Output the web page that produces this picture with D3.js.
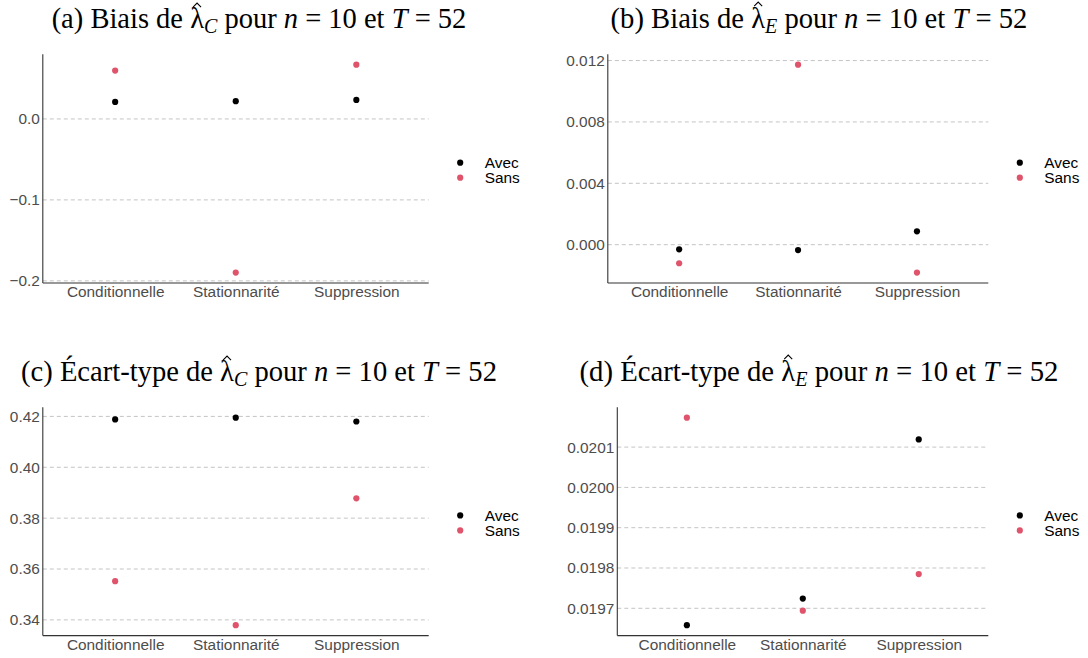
<!DOCTYPE html>
<html>
<head>
<meta charset="utf-8">
<script src="https://cdn.jsdelivr.net/npm/d3@7"></script>
<style>
  body { margin: 0; background: #fff; }
  svg { display: block; }
  .tick-lab { font-family: "Liberation Sans", Arial, sans-serif; font-size: 15.4px; fill: #4d4d4d; }
  .leg-lab { font-family: "Liberation Sans", Arial, sans-serif; font-size: 15.4px; fill: #000; }
  .title { font-family: "Liberation Serif", "DejaVu Serif", serif; fill: #000; }
</style>
</head>
<body>
<div id="chart"></div>
<script>
// Categories and series
const categories = ["Conditionnelle", "Stationnarité", "Suppression"];
const groups = ["Avec", "Sans"];

const biaisC_avec = [0.0210, 0.0219, 0.0235];
const biaisC_sans = [0.0597, -0.1898, 0.0670];
const biaisE_avec = [-0.00030, -0.00035, 0.00087];
const biaisE_sans = [-0.00121, 0.01173, -0.00182];
const sdC_avec = [0.4188, 0.4195, 0.4180];
const sdC_sans = [0.3552, 0.3379, 0.3878];
const sdE_avec = [0.019658, 0.019724, 0.020119];
const sdE_sans = [0.020173, 0.019694, 0.019785];

// Tick labels
const ticksA = [0.0, -0.1, -0.2];
const ticksB = [0.000, 0.004, 0.008, 0.012];
const ticksC = [0.34, 0.36, 0.38, 0.40, 0.42];
const ticksD = [0.0197, 0.0198, 0.0199, 0.0200, 0.0201];

const colors = {"Avec": "#000000", "Sans": "#DF536B"};

const width = 1088, height = 658;

let svg = d3.select("#chart")
    .append("svg")
    .attr("width", width)
    .attr("height", height);

// panel layout (plot area boxes)
const panels = [
    {letter: "a", what: "Biais", sub: "C", avec: biaisC_avec, sans: biaisC_sans, ticks: ticksA, fmt: d3.format(".1f"),
     left: 42.8, right: 428.7, top: 54.3, bottom: 283, titleX: 259, titleY: 28.3, titleW: 415},
    {letter: "b", what: "Biais", sub: "E", avec: biaisE_avec, sans: biaisE_sans, ticks: ticksB, fmt: d3.format(".3f"),
     left: 607.8, right: 988.3, top: 54.3, bottom: 283, titleX: 819, titleY: 28.3, titleW: 417},
    {letter: "c", what: "Écart-type", sub: "C", avec: sdC_avec, sans: sdC_sans, ticks: ticksC, fmt: d3.format(".2f"),
     left: 42.8, right: 428.7, top: 407.3, bottom: 635.6, titleX: 259, titleY: 381.3, titleW: 476},
    {letter: "d", what: "Écart-type", sub: "E", avec: sdE_avec, sans: sdE_sans, ticks: ticksD, fmt: d3.format(".4f"),
     left: 617.3, right: 988.3, top: 407.3, bottom: 635.6, titleX: 819, titleY: 381.3, titleW: 479}
];

panels.forEach(drawPanel);

function drawPanel(p) {
    let g = svg.append("g");

    // ggplot style discrete x scale: 0.6 expansion on each side
    let x = d3.scaleLinear()
        .domain([0.4, categories.length + 0.6])
        .range([p.left, p.right]);

    // continuous y with 5% expansion
    let all = p.avec.concat(p.sans);
    let ext = d3.extent(all);
    let pad = (ext[1] - ext[0]) * 0.05;
    let y = d3.scaleLinear()
        .domain([ext[0] - pad, ext[1] + pad])
        .range([p.bottom, p.top]);

    // dashed grid lines
    g.selectAll(".grid")
        .data(p.ticks)
        .enter()
        .append("line")
        .attr("x1", p.left)
        .attr("x2", p.right)
        .attr("y1", d => y(d))
        .attr("y2", d => y(d))
        .attr("stroke", "#c4c4c4")
        .attr("stroke-width", 1)
        .attr("stroke-dasharray", "4,3");

    // y axis
    let yAxis = g.append("g")
        .attr("transform", `translate(${p.left},0)`)
        .call(d3.axisLeft(y).tickValues(p.ticks).tickFormat(d => p.fmt(d).replace("-", "\u2212")).tickSize(0).tickPadding(3));
    yAxis.select(".domain").remove();
    yAxis.selectAll("text").attr("class", "tick-lab").attr("font-family", null).attr("font-size", null);

    // x axis
    let xAxis = g.append("g")
        .attr("transform", `translate(0,${p.bottom})`)
        .call(d3.axisBottom(x).tickValues(d3.range(1, categories.length + 1))
            .tickFormat(i => categories[i - 1]).tickSize(0).tickPadding(3));
    xAxis.select(".domain").remove();
    xAxis.selectAll("text").attr("class", "tick-lab").attr("font-family", null).attr("font-size", null).attr("dy", "0.72em");

    // axis lines
    g.append("line")
        .attr("x1", p.left).attr("x2", p.left)
        .attr("y1", p.top).attr("y2", p.bottom)
        .attr("stroke", "#333").attr("stroke-width", 1.1);
    g.append("line")
        .attr("x1", p.left).attr("x2", p.right)
        .attr("y1", p.bottom).attr("y2", p.bottom)
        .attr("stroke", "#333").attr("stroke-width", 1.1);

    // points
    let pts = [];
    categories.forEach(function (c, i) {
        pts.push({cat: i + 1, group: "Avec", value: p.avec[i]});
        pts.push({cat: i + 1, group: "Sans", value: p.sans[i]});
    });
    g.selectAll(".pt")
        .data(pts)
        .enter()
        .append("circle")
        .attr("cx", d => x(d.cat))
        .attr("cy", d => y(d.value))
        .attr("r", 3.1)
        .attr("fill", d => colors[d.group]);

    // legend
    let midY = (p.top + p.bottom) / 2;
    let leg = g.selectAll(".leg")
        .data(groups)
        .enter()
        .append("g")
        .attr("transform", (d, i) => `translate(${p.right + 31.5}, ${midY - 6 + i * 15})`);
    leg.append("circle").attr("r", 3.1).attr("fill", d => colors[d]);
    leg.append("text")
        .attr("class", "leg-lab")
        .attr("x", 24.5)
        .attr("dy", "0.36em")
        .text(d => d);

    // title with math bits
    let prefix = `(${p.letter}) ${p.what} de `;
    let t = g.append("text")
        .attr("class", "title")
        .attr("x", p.titleX)
        .attr("y", p.titleY)
        .attr("text-anchor", "middle")
        .style("font-size", "22px");
    t.append("tspan").text(prefix);
    t.append("tspan").text("\u03BB");
    t.append("tspan").attr("font-style", "italic").attr("font-size", "0.7em").attr("dy", "0.25em").text(p.sub);
    t.append("tspan").attr("dy", "-0.175em").text(" pour ");
    t.append("tspan").attr("font-style", "italic").text("n");
    t.append("tspan").text(" = 10 et ");
    t.append("tspan").attr("font-style", "italic").text("T");
    t.append("tspan").text(" = 52");

    // fit title to measured width
    let len = t.node().getComputedTextLength();
    let fs = 22 * p.titleW / len;
    t.style("font-size", fs + "px");

    // hat over lambda
    let box = t.node().getExtentOfChar(prefix.length);
    let cx = box.x + box.width / 2;
    let topY = box.y + box.height * 0.12;
    g.append("path")
        .attr("d", `M${cx - 4},${topY} L${cx},${topY - 4} L${cx + 4},${topY}`)
        .attr("fill", "none")
        .attr("stroke", "#000")
        .attr("stroke-width", 1.1);
}
</script>
</body>
</html>
